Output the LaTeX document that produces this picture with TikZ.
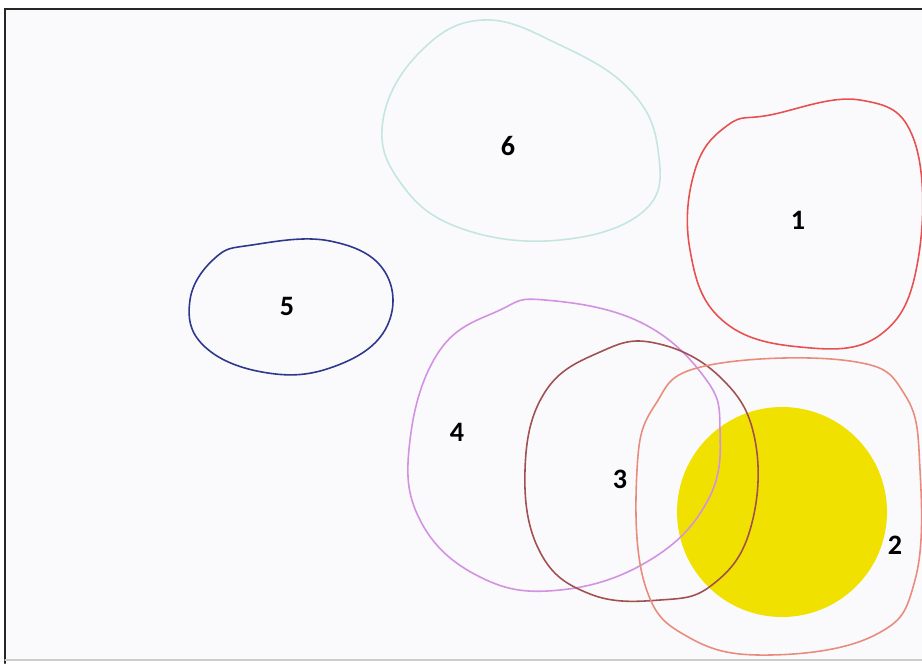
\documentclass[tikz,border=0pt]{standalone}
\usepackage{fontspec}
\setmainfont{Carlito}
\usepackage{xcolor}
\usetikzlibrary{positioning}
\definecolor{loopa}{RGB}{232,80,80}
\definecolor{loopb}{RGB}{232,140,125}
\definecolor{loopc}{RGB}{160,80,80}
\definecolor{loopd}{RGB}{210,145,225}
\definecolor{loope}{RGB}{45,55,140}
\definecolor{loopf}{RGB}{195,230,222}
\definecolor{sunc}{RGB}{240,225,0}
\definecolor{paper}{RGB}{250,250,252}

\begin{document}
\begin{tikzpicture}[x=0.02cm,y=-0.02cm,line cap=round]
\tikzstyle{num}=[font=\fontsize{16}{18}\selectfont\bfseries,inner sep=1pt]
\tikzstyle{loop}=[line width=0.9pt]
\useasboundingbox (0,0) rectangle (922,663);
\fill[paper] (5,9) rectangle (922,660);
% frame of the sheet
\draw[black!85,line width=1.2pt] (5,663) -- (5,9) -- (922,9);
\draw[black!20,line width=0.8pt] (5,660) -- (922,660);
% yellow disc
\fill[sunc] (782,512) circle[radius=105];
% hand drawn loops
\draw[loop,loopf] plot[smooth cycle,tension=0.7] coordinates {(483,20) (560,45) (630,90) (658,150) (645,210) (560,240) (460,228) (400,182) (383,120) (420,52)};
\draw[loop,loopa] plot[smooth cycle,tension=0.7] coordinates {(770,115) (860,100) (914,140) (918,260) (880,335) (800,347) (722,320) (690,250) (695,170) (728,125)};
\draw[loop,loope] plot[smooth cycle,tension=0.7] coordinates {(252,245) (330,241) (385,272) (385,330) (330,368) (262,372) (203,345) (190,300) (215,258)};
\draw[loop,loopd] plot[smooth cycle,tension=0.7] coordinates {(545,300) (640,322) (705,378) (720,430) (708,500) (650,560) (560,590) (480,577) (420,520) (410,440) (440,350) (500,310)};
\draw[loop,loopc] plot[smooth cycle,tension=0.7] coordinates {(655,343) (720,377) (755,440) (750,530) (712,585) (660,600) (590,594) (540,552) (525,470) (545,392) (600,352)};
\draw[loop,loopb] plot[smooth cycle,tension=0.7] coordinates {(705,366) (850,361) (905,395) (920,470) (915,580) (875,635) (770,655) (690,638) (645,585) (637,470) (655,405)};
% numbers
\node[num] (six) at (508,146) {6};
\node[num] (one) at (798,220) {1};
\node[num] (five) at (287,306) {5};
\node[num] (four) at (457,432) {4};
\node[num] (three) at (620,479) {3};
\node[num] (two) at (895,545) {2};
\end{tikzpicture}
\end{document}
